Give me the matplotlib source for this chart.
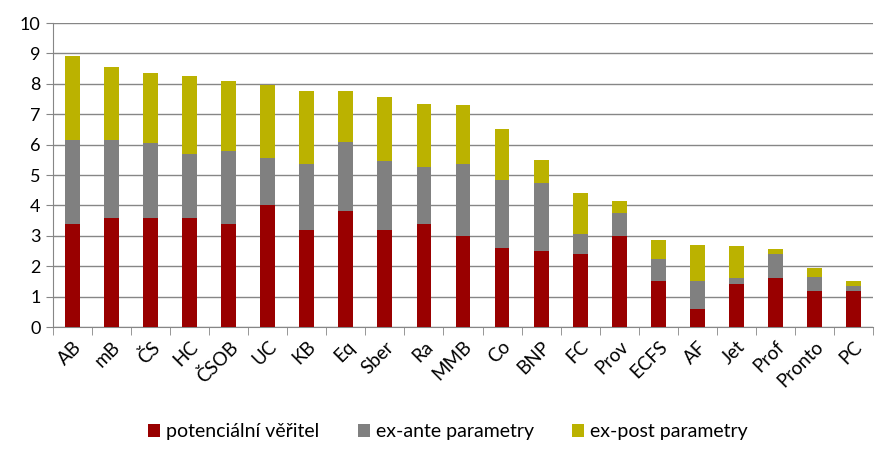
import matplotlib
matplotlib.use("Agg")
import matplotlib.pyplot as plt
import numpy as np

categories = ["AB", "mB", "ČS", "HC", "ČSOB", "UC", "KB", "Eq", "Sber", "Ra",
              "MMB", "Co", "BNP", "FC", "Prov", "ECFS", "AF", "Jet", "Prof",
              "Pronto", "PC"]
veritel = [3.4, 3.6, 3.6, 3.6, 3.4, 4.0, 3.2, 3.8, 3.2, 3.4,
           3.0, 2.6, 2.5, 2.4, 3.0, 1.5, 0.6, 1.4, 1.6, 1.2, 1.2]
ex_ante = [2.75, 2.55, 2.45, 2.1, 2.4, 1.55, 2.15, 2.3, 2.25, 1.85,
           2.35, 2.25, 2.25, 0.65, 0.75, 0.75, 0.9, 0.2, 0.8, 0.45, 0.15]
ex_post = [2.75, 2.4, 2.3, 2.55, 2.3, 2.4, 2.4, 1.65, 2.1, 2.1,
           1.95, 1.65, 0.75, 1.35, 0.4, 0.6, 1.2, 1.05, 0.15, 0.3, 0.15]
series_names = ["potenciální věřitel", "ex-ante parametry", "ex-post parametry"]
colors = ["#990000", "#808080", "#BBB200"]

plt.rcParams["font.family"] = ["Lato", "DejaVu Sans"]

fig = plt.figure(figsize=(8.96, 4.63), dpi=100)
ax = fig.add_axes([53 / 896, 1 - 327 / 463, 820 / 896, 304 / 463])

x = np.arange(len(categories))
w = 0.38
bottom = np.zeros(len(categories))
for vals, name, c in zip([veritel, ex_ante, ex_post], series_names, colors):
    vals = np.array(vals)
    ax.bar(x, vals, w, bottom=bottom, color=c, label=name, zorder=3)
    bottom += vals

ax.set_ylim(0, 10)
ax.set_xlim(-0.5, len(categories) - 0.5)
ax.set_yticks(range(0, 11))
ax.yaxis.grid(True, color="#868686", linewidth=1.0, zorder=0)
ax.tick_params(axis="y", labelsize=13, length=5, color="#868686", pad=4)

# category labels centred, tick marks between categories
ax.set_xticks(x)
ax.set_xticklabels(categories, rotation=45, ha="right", rotation_mode="anchor",
                   fontsize=13.5)
ax.tick_params(axis="x", length=0, pad=8)
ax.set_xticks(np.arange(-0.5, len(categories)), minor=True)
ax.tick_params(axis="x", which="minor", length=6, color="#868686")

for s in ["top", "right"]:
    ax.spines[s].set_visible(False)
for s in ["left", "bottom"]:
    ax.spines[s].set_color("#868686")

fig.legend(loc="center", bbox_to_anchor=(0.5, 1 - 432 / 463), ncol=3,
           frameon=False, fontsize=14, handlelength=0.6, handleheight=0.6,
           handletextpad=0.3, columnspacing=2.0)

fig.savefig("out.png", dpi=100)
